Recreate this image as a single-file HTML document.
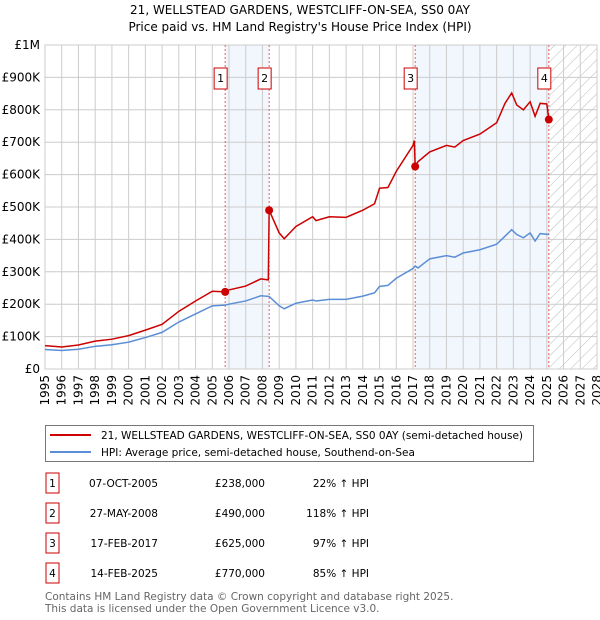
<!DOCTYPE html>
<html><head><meta charset="utf-8"><style>
body{margin:0;background:#fff;font-family:"DejaVu Sans","Liberation Sans",sans-serif;}
svg{display:block}
</style></head><body>
<svg id="c" width="600" height="620" font-family="DejaVu Sans, Liberation Sans, sans-serif"></svg>
<script>
const hpiYears=[1995,1996,1997,1998,1999,2000,2001,2002,2003,2004,2005,2005.77,2006,2007,2007.9,2008.4,2009,2009.3,2010,2011,2011.2,2012,2013,2014,2014.7,2015,2015.5,2016,2017,2017.13,2017.3,2018,2019,2019.5,2020,2021,2022,2022.5,2022.9,2023.2,2023.6,2024,2024.3,2024.6,2025.12];
const hpiValues=[60,57,61,70,75,83,97,113,145,170,195,197,200,210,226,224,195,186,203,213,210,215,215,225,235,255,258,280,310,318,312,340,350,345,358,368,385,410,430,415,405,420,395,418,415];
const priceYears=[1995,1996,1997,1998,1999,2000,2001,2002,2003,2004,2005,2005.77,2006,2007,2007.9,2008.35,2008.4,2009,2009.3,2010,2011,2011.2,2012,2013,2014,2014.7,2015,2015.5,2016,2017,2017.08,2017.13,2017.3,2018,2019,2019.5,2020,2021,2022,2022.5,2022.9,2023.2,2023.6,2024,2024.3,2024.6,2025,2025.12];
const priceValues=[72,68,74,86,92,103,120,138,178,210,240,238,244,256,278,275,490,420,402,440,470,458,470,468,490,510,558,560,610,690,705,625,640,670,690,685,705,725,760,820,852,815,800,825,780,820,818,770];
const saleYears=[2005.77,2008.4,2017.13,2025.12];
const saleValues=[238,490,625,770];
const yTicks=[0,100,200,300,400,500,600,700,800,900,1000];
const yTickLabels=["£0","£100K","£200K","£300K","£400K","£500K","£600K","£700K","£800K","£900K","£1M"];
const xTicks=[1995,1996,1997,1998,1999,2000,2001,2002,2003,2004,2005,2006,2007,2008,2009,2010,2011,2012,2013,2014,2015,2016,2017,2018,2019,2020,2021,2022,2023,2024,2025,2026,2027,2028];

const L=45,R=597,T=45,B=369;
const X=y=>L+(y-1995)/(2028-1995)*(R-L);
const Y=v=>B-v/1000*(B-T);
const svg=document.getElementById('c');
const NS='http://www.w3.org/2000/svg';
function el(tag,attrs,parent){const e=document.createElementNS(NS,tag);for(const k in attrs)e.setAttribute(k,attrs[k]);(parent||svg).appendChild(e);return e;}
function txt(s,attrs,parent){const e=el('text',attrs,parent);e.textContent=s;return e;}

let t=txt("21, WELLSTEAD GARDENS, WESTCLIFF-ON-SEA, SS0 0AY",{x:300,y:14,'text-anchor':'middle','font-size':12});


t=txt("Price paid vs. HM Land Registry's House Price Index (HPI)",{x:300,y:31,'text-anchor':'middle','font-size':12});



const defs=el('defs',{});
const pat=el('pattern',{id:'h',width:8,height:8,patternUnits:'userSpaceOnUse',patternTransform:'rotate(45)'},defs);
el('line',{x1:0,y1:0,x2:0,y2:8,stroke:'#bbb','stroke-width':1},pat);

let r=el('rect',{x:X(2005.77),y:T,width:X(2008.4)-X(2005.77),height:B-T,fill:'#f2f6fd'});


r=el('rect',{x:X(2017.13),y:T,width:X(2025.12)-X(2017.13),height:B-T,fill:'#f2f6fd'});


r=el('rect',{x:X(2025.12),y:T,width:R-X(2025.12),height:B-T,fill:'url(#h)'});



xTicks.forEach(y=>{el('line',{x1:X(y),y1:T,x2:X(y),y2:B,stroke:'#ccc','stroke-width':1});
 const lb=txt(String(y),{x:0,y:0,'font-size':12,'text-anchor':'end',transform:`translate(${X(y)+4},${B+6}) rotate(-90)`});
 
 });
yTicks.forEach((v,i)=>{el('line',{x1:L,y1:Y(v),x2:R,y2:Y(v),stroke:'#ccc','stroke-width':1});
 const lb=txt(yTickLabels[i],{x:40,y:Y(v)+4,'font-size':12,'text-anchor':'end'});
 
 });
el('rect',{x:L,y:T,width:R-L,height:B-T,fill:'none',stroke:'#ccc'});

saleYears.forEach((y,i)=>{
 el('line',{x1:X(y),y1:T,x2:X(y),y2:B,stroke:'#e06060','stroke-width':1,'stroke-dasharray':'2,2'});
 const g=el('g',{});
 
 
 el('rect',{x:X(y)-11,y:68,width:13,height:21,fill:'#fff',stroke:'#c00','stroke-width':1},g);
 txt(String(i+1),{x:X(y)-4.5,y:82,'font-size':11,'text-anchor':'middle'},g);
});

const hp=el('polyline',{points:hpiYears.map((y,i)=>X(y)+','+Y(hpiValues[i])).join(' '),fill:'none',stroke:'#5b8ed6','stroke-width':1.5});


const pp=el('polyline',{points:priceYears.map((y,i)=>X(y)+','+Y(priceValues[i])).join(' '),fill:'none',stroke:'#cc0000','stroke-width':1.5});


saleYears.forEach((y,i)=>{const c=el('circle',{cx:X(y),cy:Y(saleValues[i]),r:4,fill:'#cc0000'});
 
 });

const lg=el('g',{});


el('rect',{x:45.5,y:425.5,width:488,height:36,fill:'#fff',stroke:'#777'},lg);
el('line',{x1:50,y1:435,x2:91,y2:435,stroke:'#cc0000','stroke-width':2},lg);
txt("21, WELLSTEAD GARDENS, WESTCLIFF-ON-SEA, SS0 0AY (semi-detached house)",{x:101,y:439,'font-size':10.5},lg);
el('line',{x1:50,y1:452,x2:91,y2:452,stroke:'#5b8ed6','stroke-width':2},lg);
txt("HPI: Average price, semi-detached house, Southend-on-Sea",{x:101,y:456,'font-size':10.5},lg);

const rowDates=["07-OCT-2005","27-MAY-2008","17-FEB-2017","14-FEB-2025"];
const rowPrices=["£238,000","£490,000","£625,000","£770,000"];
const rowHpi=["22% ↑ HPI","118% ↑ HPI","97% ↑ HPI","85% ↑ HPI"];
rowDates.forEach((d,i)=>{const y=483+i*30;
 const g=el('g',{});
 
 
 el('rect',{x:46,y:y-10,width:13,height:20,fill:'#fff',stroke:'#c00'},g);
 txt(String(i+1),{x:52.5,y:y+4,'font-size':10.5,'text-anchor':'middle'},g);
 txt(d,{x:158,y:y+4,'font-size':10.5,'text-anchor':'end'},g);
 txt(rowPrices[i],{x:265,y:y+4,'font-size':10.5,'text-anchor':'end'},g);
 txt(rowHpi[i],{x:369,y:y+4,'font-size':10.5,'text-anchor':'end'},g);
});
const f1=txt("Contains HM Land Registry data © Crown copyright and database right 2025.",{x:45,y:600,'font-size':10.5,fill:'#666'});


const f2=txt("This data is licensed under the Open Government Licence v3.0.",{x:45,y:612,'font-size':10.5,fill:'#666'});


</script>
</body></html>
